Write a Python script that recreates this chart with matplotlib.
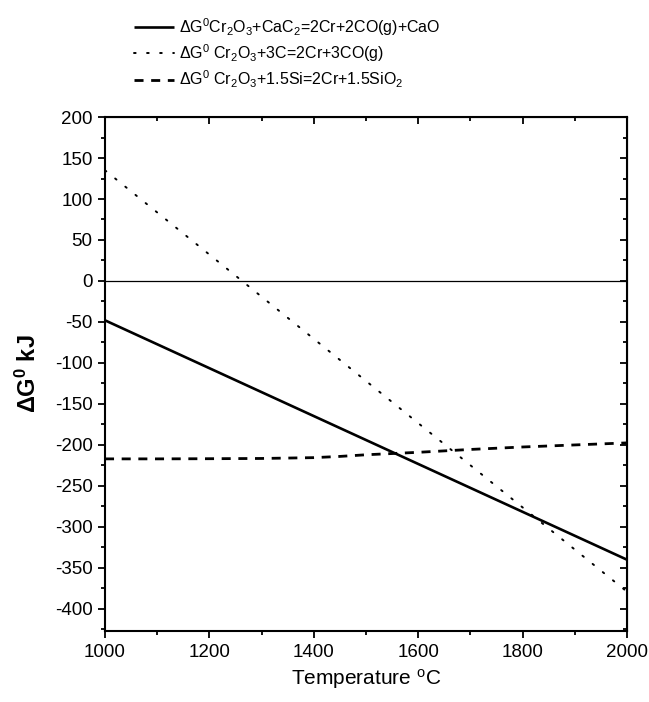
import numpy as np
import matplotlib
matplotlib.use("Agg")
import matplotlib.pyplot as plt
from matplotlib.ticker import MultipleLocator

plt.rcParams['font.family'] = ['Liberation Sans', 'DejaVu Sans']
plt.rcParams['mathtext.fontset'] = 'custom'
plt.rcParams['mathtext.rm'] = 'Liberation Sans'
plt.rcParams['mathtext.bf'] = 'Liberation Sans:bold'
plt.rcParams['mathtext.default'] = 'regular'
plt.rcParams['lines.scale_dashes'] = False
plt.rcParams['axes.unicode_minus'] = False

# Reaction free energies (kJ)
temp_lin = [1000, 2000]
dg_cac2 = [-48, -340]
dg_carbon = [135, -379]

temp_si = [1000, 1100, 1200, 1300, 1400, 1450, 1500, 1550, 1600, 1700, 1800, 1900, 2000]
dg_si = [-217, -217, -216.8, -216.5, -215.5, -214, -212, -210.5, -209, -205.5, -202.5, -200, -197.5]

labels = [
    r'$\Delta$G$^0$Cr$_2$O$_3$+CaC$_2$=2Cr+2CO(g)+CaO',
    r'$\Delta$G$^0$ Cr$_2$O$_3$+3C=2Cr+3CO(g)',
    r'$\Delta$G$^0$ Cr$_2$O$_3$+1.5Si=2Cr+1.5SiO$_2$',
]

fig = plt.figure(figsize=(6.49, 7.02), dpi=100)
ax = fig.add_axes([0.1618, 0.1011, 0.8043, 0.7322])

ax.axhline(0, color='black', lw=0.9)
l1, = ax.plot(temp_lin, dg_cac2, color='black', lw=1.9, solid_capstyle='butt')
l2, = ax.plot(temp_lin, dg_carbon, color='black', lw=1.4,
              linestyle=(0, (1.2, 8.2)), dash_capstyle='round')
l3, = ax.plot(temp_si, dg_si, color='black', lw=2.0, linestyle=(0, (6.5, 5.5)))

ax.set_xlim(1000, 2000)
ax.set_ylim(-427, 200)
ax.xaxis.set_major_locator(MultipleLocator(200))
ax.xaxis.set_minor_locator(MultipleLocator(100))
ax.yaxis.set_major_locator(MultipleLocator(50))
ax.yaxis.set_minor_locator(MultipleLocator(25))
ax.set_yticks(np.arange(-400, 201, 50))

for s in ax.spines.values():
    s.set_linewidth(1.5)

ax.tick_params(which='both', left=True, bottom=True, top=False, right=False,
               direction='out', width=1.3, labelsize=13.5, pad=4)
ax.tick_params(which='major', length=5)
ax.tick_params(which='minor', length=3)

# inward ticks on the top and right sides
axt = ax.secondary_xaxis('top')
axt.xaxis.set_major_locator(MultipleLocator(200))
axt.xaxis.set_minor_locator(MultipleLocator(100))
axt.tick_params(which='both', direction='in', width=1.3, labeltop=False)
axt.tick_params(which='major', length=5)
axt.tick_params(which='minor', length=3)
axr = ax.secondary_yaxis('right')
axr.yaxis.set_major_locator(MultipleLocator(50))
axr.yaxis.set_minor_locator(MultipleLocator(25))
axr.tick_params(which='both', direction='in', width=1.3, labelright=False)
axr.tick_params(which='major', length=5)
axr.tick_params(which='minor', length=3)

ax.set_xlabel('Temperature $^o$C', fontsize=15, labelpad=5)
ax.set_ylabel(r'$\Delta$G$^\mathbf{0}$ kJ', fontsize=17, fontweight='bold', labelpad=10)

fig.legend([l1, l2, l3], labels, loc='upper left', bbox_to_anchor=(0.19, 0.993),
           frameon=False, fontsize=11.5, handlelength=2.5, handletextpad=0.3,
           labelspacing=0.28, borderpad=0.2)

fig.savefig('out.png', dpi=100)
